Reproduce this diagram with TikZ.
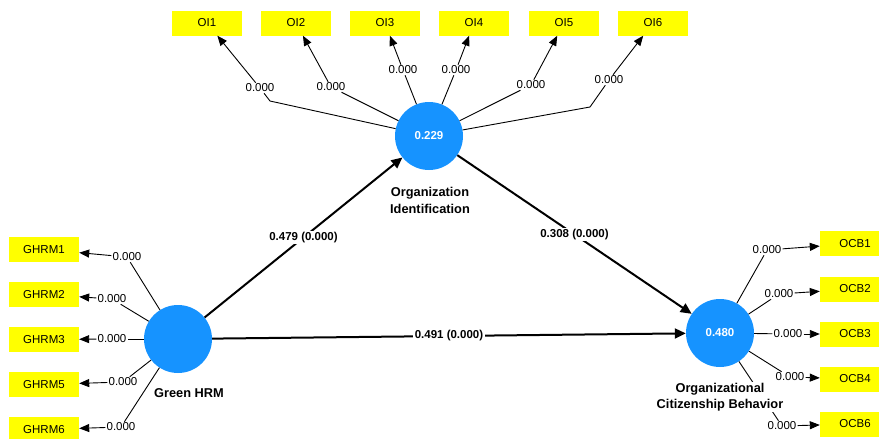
\documentclass[tikz,border=0pt]{standalone}
\usepackage{fontspec}
\setmainfont{Liberation Sans}
\usetikzlibrary{arrows.meta}
\definecolor{lvblue}{RGB}{22,147,255}
\definecolor{indyellow}{RGB}{255,255,0}
\begin{document}
\begin{tikzpicture}[x=1pt,y=-1pt,
  lv/.style={circle,fill=lvblue,minimum size=68pt,inner sep=0pt,text=white,font=\fontsize{11.5}{13}\selectfont\bfseries},
  indbox/.style={rectangle,fill=indyellow,minimum width=70pt,minimum height=25pt,inner sep=0pt,font=\fontsize{11.5}{13}\selectfont},
  wlbl/.style={fill=white,inner sep=1pt,font=\fontsize{11.5}{13}\selectfont},
  plbl/.style={fill=white,inner sep=1.5pt,font=\fontsize{11.5}{13}\selectfont\bfseries},
  lvname/.style={fill=white,inner sep=1pt,align=center,font=\fontsize{12.8}{16.5}\selectfont\bfseries},
  indline/.style={draw=black,line width=0.9pt},
  outarrow/.style={indline,-{Triangle[length=10pt,width=8pt]}},
  structarrow/.style={draw=black,line width=2pt,-{Triangle[length=11pt,width=10pt]}}
]
\clip (0,0) rectangle (879,439);
\fill[white] (0,0) rectangle (879,439);

% latent variables
\node[lv] (GH) at (178,339) {};
\node[lv] (OI) at (429,136) {0.229};
\node[lv] (OCB) at (720,333) {0.480};

% indicator boxes
\node[indbox] (OI1) at (207,23) {OI1};
\node[indbox] (OI2) at (296,23) {OI2};
\node[indbox] (OI3) at (385,23) {OI3};
\node[indbox] (OI4) at (474,23) {OI4};
\node[indbox] (OI5) at (564,23) {OI5};
\node[indbox] (OI6) at (653,23) {OI6};

\node[indbox] (G1) at (44,249.5) {GHRM1};
\node[indbox] (G2) at (44,294.5) {GHRM2};
\node[indbox] (G3) at (44,339.5) {GHRM3};
\node[indbox] (G5) at (44,384.5) {GHRM5};
\node[indbox] (G6) at (44,429.5) {GHRM6};

\node[indbox] (C1) at (855,243.5) {OCB1};
\node[indbox] (C2) at (855,289) {OCB2};
\node[indbox] (C3) at (855,334) {OCB3};
\node[indbox] (C4) at (855,379) {OCB4};
\node[indbox] (C6) at (855,424) {OCB6};

% loading labels
\node[wlbl] (lo1) at (260,88) {0.000};
\node[wlbl] (lo2) at (331,87) {0.000};
\node[wlbl] (lo3) at (403,70) {0.000};
\node[wlbl] (lo4) at (456,70) {0.000};
\node[wlbl] (lo5) at (531,85) {0.000};
\node[wlbl] (lo6) at (609,80) {0.000};

\node[wlbl] (lg1) at (127,257) {0.000};
\node[wlbl] (lg2) at (112,299) {0.000};
\node[wlbl] (lg3) at (112,339) {0.000};
\node[wlbl] (lg5) at (123,382) {0.000};
\node[wlbl] (lg6) at (121,427) {0.000};

\node[wlbl] (lc1) at (767,250) {0.000};
\node[wlbl] (lc2) at (779,294) {0.000};
\node[wlbl] (lc3) at (788,334) {0.000};
\node[wlbl] (lc4) at (790,377) {0.000};
\node[wlbl] (lc6) at (782,426) {0.000};

\coordinate (k1) at (270,101);
\coordinate (k6) at (590,107);

% OI loadings
\draw[indline] (OI) -- (k1) -- (lo1);
\draw[outarrow] (lo1) -- (OI1);
\draw[indline] (OI) -- (lo2);
\draw[outarrow] (lo2) -- (OI2);
\draw[indline] (OI) -- (lo3);
\draw[outarrow] (lo3) -- (OI3);
\draw[indline] (OI) -- (lo4);
\draw[outarrow] (lo4) -- (OI4);
\draw[indline] (OI) -- (lo5);
\draw[outarrow] (lo5) -- (OI5);
\draw[indline] (OI) -- (k6) -- (lo6);
\draw[outarrow] (lo6) -- (OI6);

% GHRM loadings
\draw[indline] (GH) -- (lg1);
\draw[outarrow] (lg1) -- (G1);
\draw[indline] (GH) -- (lg2);
\draw[outarrow] (lg2) -- (G2);
\draw[indline] (GH) -- (lg3);
\draw[outarrow] (lg3) -- (G3);
\draw[indline] (GH) -- (lg5);
\draw[outarrow] (lg5) -- (G5);
\draw[indline] (GH) -- (lg6);
\draw[outarrow] (lg6) -- (G6);

% OCB loadings
\draw[indline] (OCB) -- (lc1);
\draw[outarrow] (lc1) -- (C1);
\draw[indline] (OCB) -- (lc2);
\draw[outarrow] (lc2) -- (C2);
\draw[indline] (OCB) -- (lc3);
\draw[outarrow] (lc3) -- (C3);
\draw[indline] (OCB) -- (lc4);
\draw[outarrow] (lc4) -- (C4);
\draw[indline] (OCB) -- (lc6);
\draw[outarrow] (lc6) -- (C6);

% structural paths
\draw[structarrow] (GH) -- node[plbl,pos=0.5] (p1) {0.479 (0.000)} (OI);
\draw[structarrow] (OI) -- node[plbl,pos=0.5] (p2) {0.308 (0.000)} (OCB);
\draw[structarrow] (GH) -- node[plbl,pos=0.5] (p3) {0.491 (0.000)} (OCB);

% latent variable names
\node[lvname] (nOI) at (430,200.5) {Organization\\Identification};
\node[lvname] (nGH) at (189,393) {Green HRM};
\node[lvname] (nOCB) at (720,397) {Organizational\\Citizenship Behavior};
\end{tikzpicture}
\end{document}
